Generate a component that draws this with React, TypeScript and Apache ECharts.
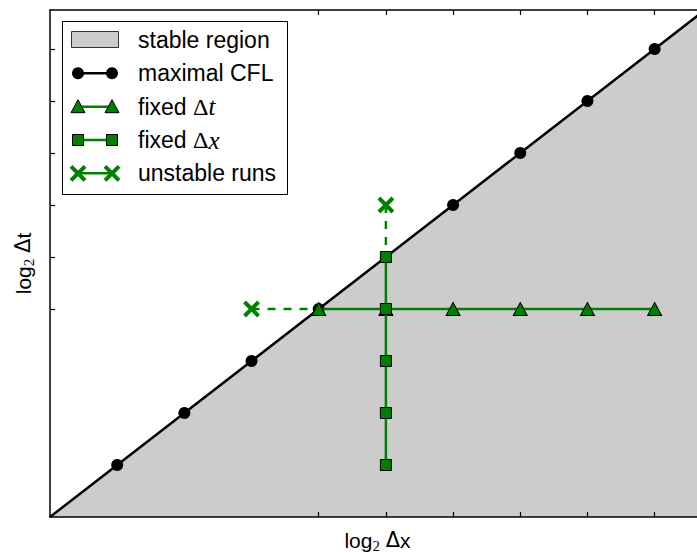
import { useEffect, useRef } from "react";
import * as echarts from "echarts";

// log2 of the grid spacing / time step for every run
const cflLog2Dx = [0, 1, 2, 3, 4, 5, 6, 7, 8, 9, 10];
const cflLog2Dt = [0, 1, 2, 3, 4, 5, 6, 7, 8, 9, 10];
const fixedDtLog2Dx = [4, 5, 6, 7, 8, 9];
const fixedDtLog2Dt = [4, 4, 4, 4, 4, 4];
const fixedDxLog2Dx = [5, 5, 5, 5, 5];
const fixedDxLog2Dt = [1, 2, 3, 4, 5];
const unstableLog2Dx = [3, 5];
const unstableLog2Dt = [4, 6];
// the stable run next to each unstable one
const neighbourLog2Dx = [4, 5];
const neighbourLog2Dt = [4, 5];

const tickValues = [4, 5, 6, 7, 8, 9];
const axisMin = 0;
const axisMax = 9.75;

const legendLabels = ["stable region", "maximal CFL", "fixed {m|Δ}{i|t}", "fixed {m|Δ}{i|x}", "unstable runs"];

const GREEN = "#008000";
const GRAY = "#cccccc";
const SANS = "'Liberation Sans', Arial, sans-serif";
const SERIF = "'Liberation Serif', 'DejaVu Serif', serif";
const CROSS = "path://M0,0L10,10M10,0L0,10";

const pairs = (xs: number[], ys: number[]) => xs.map((x, i) => [x, ys[i]]);

function frameAxis(position: string, name?: string, nameGap?: number) {
  return {
    type: "value",
    position,
    min: axisMin,
    max: axisMax,
    z: 10,
    name,
    nameLocation: "middle",
    nameGap,
    nameTextStyle: {
      color: "#000",
      fontFamily: SANS,
      fontSize: 21,
      rich: {
        n: { fontFamily: SANS, fontSize: 21, color: "#000" },
        d: { fontFamily: "'DejaVu Sans', sans-serif", fontSize: 21, color: "#000" },
        sub: { fontFamily: SERIF, fontSize: 15, color: "#000", padding: [11, 0, 0, 0] },
      },
    },
    axisLine: { show: true, onZero: false, lineStyle: { color: "#000", width: 1.5 } },
    axisTick: { show: true, inside: true, length: 5, customValues: tickValues, lineStyle: { color: "#000", width: 1.2 } },
    axisLabel: { show: false },
    splitLine: { show: false },
  };
}

function legendGraphic() {
  const rows = [40, 73.3, 106.7, 140, 173.3];
  const xa = 78;
  const xb = 112;
  const els: any[] = [
    { type: "rect", shape: { x: 62.5, y: 21.5, width: 225, height: 173 }, style: { fill: "#fff", stroke: "#000", lineWidth: 1 } },
    { type: "rect", shape: { x: 71.5, y: 31.5, width: 47, height: 16 }, style: { fill: GRAY, stroke: "#333", lineWidth: 1 } },
  ];
  const seg = (y: number, color: string, w: number) => ({
    type: "line",
    shape: { x1: xa, y1: y, x2: xb, y2: y },
    style: { stroke: color, lineWidth: w },
  });
  // maximal CFL
  els.push(seg(rows[1], "#000", 2.5));
  [xa, xb].forEach((x) => els.push({ type: "circle", shape: { cx: x, cy: rows[1], r: 6 }, style: { fill: "#000" } }));
  // fixed dt
  els.push(seg(rows[2], GREEN, 2.5));
  [xa, xb].forEach((x) =>
    els.push({
      type: "polygon",
      shape: { points: [[x, rows[2] - 7], [x + 7, rows[2] + 6], [x - 7, rows[2] + 6]] },
      style: { fill: GREEN, stroke: "#000", lineWidth: 1 },
    })
  );
  // fixed dx
  els.push(seg(rows[3], GREEN, 2.5));
  [xa, xb].forEach((x) =>
    els.push({
      type: "rect",
      shape: { x: x - 5.5, y: rows[3] - 5.5, width: 11, height: 11 },
      style: { fill: GREEN, stroke: "#000", lineWidth: 1 },
    })
  );
  // unstable runs
  els.push(seg(rows[4], GREEN, 2.5));
  [xa, xb].forEach((x) => {
    els.push({ type: "line", shape: { x1: x - 7, y1: rows[4] - 7, x2: x + 7, y2: rows[4] + 7 }, style: { stroke: GREEN, lineWidth: 4 } });
    els.push({ type: "line", shape: { x1: x + 7, y1: rows[4] - 7, x2: x - 7, y2: rows[4] + 7 }, style: { stroke: GREEN, lineWidth: 4 } });
  });
  legendLabels.forEach((label, i) =>
    els.push({
      type: "text",
      x: 138,
      y: rows[i],
      style: {
        text: label,
        font: `23px ${SANS}`,
        fill: "#000",
        verticalAlign: "middle",
        align: "left",
        rich: {
          m: { fontFamily: SERIF, fontSize: 24, fill: "#000" },
          i: { fontFamily: SERIF, fontStyle: "italic", fontSize: 25, fill: "#000" },
        },
      },
    })
  );
  return { type: "group", z: 100, children: els };
}

export default function App() {
  const ref = useRef<HTMLDivElement>(null);

  useEffect(() => {
    if (!ref.current) return;
    const chart = echarts.init(ref.current, null, { renderer: "svg" });
    chart.setOption({
      animation: false,
      backgroundColor: "#fff",
      grid: { left: 50, top: 10, width: 655, height: 507, containLabel: false, outerBoundsMode: "none" },
      xAxis: [
        frameAxis("bottom", "{n|log}{sub|2} {d|Δ}{n|x}", 10),
        frameAxis("top"),
      ],
      yAxis: [
        frameAxis("left", "{n|log}{sub|2} {d|Δ}{n|t}", 14),
        frameAxis("right"),
      ],
      series: [
        {
          name: "stable region",
          type: "line",
          data: pairs(cflLog2Dx, cflLog2Dt),
          symbol: "none",
          lineStyle: { width: 0 },
          areaStyle: { color: GRAY, opacity: 1 },
          clip: true,
          silent: true,
          z: 1,
        },
        {
          name: "maximal CFL",
          type: "line",
          data: pairs(cflLog2Dx, cflLog2Dt),
          symbol: "circle",
          symbolSize: (v: number[]) => (v[0] === 0 ? 0 : 12),
          itemStyle: { color: "#000" },
          lineStyle: { color: "#000", width: 2.5 },
          clip: true,
          silent: true,
          z: 2,
        },
        ...neighbourLog2Dx.map((nx, i) => ({
          name: "unstable link " + i,
          type: "line",
          data: [
            [unstableLog2Dx[i], unstableLog2Dt[i]],
            [nx, neighbourLog2Dt[i]],
          ],
          symbol: "none",
          lineStyle: { color: GREEN, width: 2.5, type: [8, 8] },
          silent: true,
          z: 3,
        })),
        {
          name: "fixed Δt",
          type: "line",
          data: pairs(fixedDtLog2Dx, fixedDtLog2Dt),
          symbol: "triangle",
          symbolSize: [14, 13],
          itemStyle: { color: GREEN, borderColor: "#000", borderWidth: 1 },
          lineStyle: { color: GREEN, width: 2.5 },
          silent: true,
          z: 4,
        },
        {
          name: "fixed Δx",
          type: "line",
          data: pairs(fixedDxLog2Dx, fixedDxLog2Dt),
          symbol: "rect",
          symbolSize: 11,
          itemStyle: { color: GREEN, borderColor: "#000", borderWidth: 1 },
          lineStyle: { color: GREEN, width: 2.5 },
          silent: true,
          z: 5,
        },
        {
          name: "unstable runs",
          type: "scatter",
          data: pairs(unstableLog2Dx, unstableLog2Dt),
          symbol: CROSS,
          symbolSize: 14,
          itemStyle: { color: GREEN, borderColor: GREEN, borderWidth: 4, opacity: 1 },
          silent: true,
          z: 6,
        },
      ],
      graphic: [legendGraphic()],
    });
    return () => chart.dispose();
  }, []);

  return (
    <div style={{ position: "fixed", left: 0, top: 0, width: 697, height: 553, overflow: "hidden", background: "#fff" }}>
      <div ref={ref} style={{ width: 720, height: 553 }} />
    </div>
  );
}
